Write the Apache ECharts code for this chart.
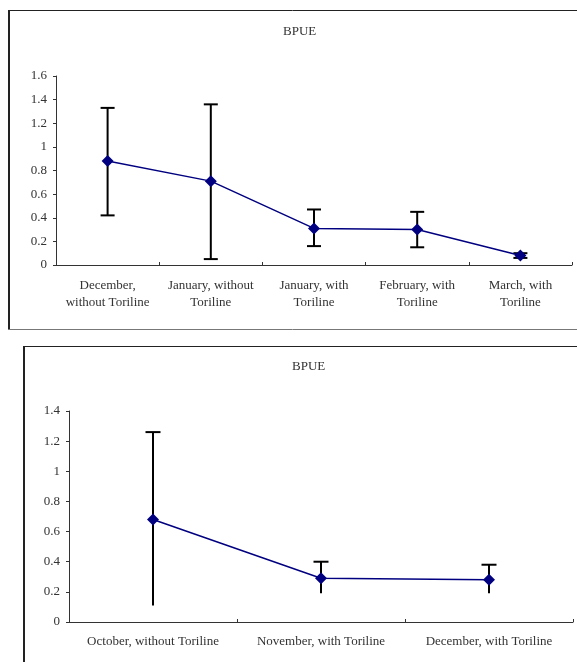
<!DOCTYPE html>
<html>
<head>
<meta charset="utf-8">
<script src="https://cdn.jsdelivr.net/npm/echarts@6/dist/echarts.min.js"></script>
<style>
  html, body { margin: 0; padding: 0; background: #fff; }
  #chart { width: 577px; height: 662px; }
</style>
</head>
<body>
<div id="chart"></div>
<script>
// BPUE by month, with and without Toriline (two panels)
const topCategories = ['December,\nwithout Toriline', 'January, without\nToriline', 'January, with\nToriline', 'February, with\nToriline', 'March, with\nToriline']
const topMean = [0.88, 0.71, 0.31, 0.30, 0.08]
const topLow = [0.42, 0.05, 0.16, 0.15, 0.06]
const topHigh = [1.33, 1.36, 0.47, 0.45, 0.10]
const topTicks = [0, 0.2, 0.4, 0.6, 0.8, 1, 1.2, 1.4, 1.6]

const bottomCategories = ['October, without Toriline', 'November, with Toriline', 'December, with Toriline']
const bottomMean = [0.68, 0.29, 0.28]
const bottomLow = [0.11, 0.19, 0.19]
const bottomHigh = [1.26, 0.40, 0.38]
const bottomTicks = [0, 0.2, 0.4, 0.6, 0.8, 1, 1.2, 1.4]

const font = '"Liberation Serif", "Times New Roman", serif'
const textColor = '#333'
const axisColor = '#333'
const lineColor = '#000080'

function yAxis(gridIndex, ticks) {
  return {
    type: 'value', gridIndex,
    min: ticks[0], max: ticks[ticks.length - 1], interval: ticks[1] - ticks[0],
    axisLine: { show: true, lineStyle: { color: axisColor, width: 1 } },
    axisTick: { show: true, length: 3, lineStyle: { color: axisColor } },
    axisLabel: { margin: 9, color: textColor, fontFamily: font, fontSize: 13 },
    splitLine: { show: false }
  }
}

function xAxis(gridIndex, data, margin, lineHeight) {
  return {
    type: 'category', gridIndex, data, boundaryGap: true,
    axisLine: { lineStyle: { color: axisColor, width: 1 } },
    axisTick: { show: true, inside: true, length: 3, lineStyle: { color: axisColor } },
    axisLabel: { margin, interval: 0, color: textColor, fontFamily: font, fontSize: 13, lineHeight }
  }
}

function errorBars(idx, low, high, capBottom, capHalf) {
  return {
    type: 'custom', xAxisIndex: idx, yAxisIndex: idx, z: 2,
    data: low.map((l, i) => [i, l, high[i]]),
    renderItem(params, api) {
      const i = api.value(0)
      const lo = api.coord([i, api.value(1)])
      const hi = api.coord([i, api.value(2)])
      const style = { stroke: '#000', lineWidth: 2 }
      const children = [
        { type: 'line', shape: { x1: lo[0], y1: lo[1], x2: hi[0], y2: hi[1] }, style },
        { type: 'line', shape: { x1: hi[0] - capHalf, y1: hi[1], x2: hi[0] + capHalf, y2: hi[1] }, style }
      ]
      if (capBottom) {
        children.push({ type: 'line', shape: { x1: lo[0] - capHalf, y1: lo[1], x2: lo[0] + capHalf, y2: lo[1] }, style })
      }
      return { type: 'group', children }
    }
  }
}

function meanLine(idx, data) {
  return {
    type: 'line', xAxisIndex: idx, yAxisIndex: idx, z: 3, data,
    symbol: 'diamond', symbolSize: 12,
    lineStyle: { color: lineColor, width: 1.5 },
    itemStyle: { color: lineColor },
    animation: false
  }
}

const chart = echarts.init(document.getElementById('chart'))
chart.setOption({
  animation: false,
  textStyle: { fontFamily: font },
  title: [
    { text: 'BPUE', left: 278, top: 20, textStyle: { fontFamily: font, fontSize: 13, fontWeight: 'normal', color: textColor } },
    { text: 'BPUE', left: 287, top: 355, textStyle: { fontFamily: font, fontSize: 13, fontWeight: 'normal', color: textColor } }
  ],
  graphic: [
    { type: 'line', shape: { x1: 8, y1: 10.5, x2: 577, y2: 10.5 }, style: { stroke: '#222', lineWidth: 1 } },
    { type: 'line', shape: { x1: 9, y1: 10, x2: 9, y2: 330 }, style: { stroke: '#222', lineWidth: 2 } },
    { type: 'line', shape: { x1: 8, y1: 329.5, x2: 577, y2: 329.5 }, style: { stroke: '#777', lineWidth: 1 } },
    { type: 'line', shape: { x1: 23, y1: 346.5, x2: 577, y2: 346.5 }, style: { stroke: '#222', lineWidth: 1 } },
    { type: 'line', shape: { x1: 24, y1: 346, x2: 24, y2: 662 }, style: { stroke: '#222', lineWidth: 2 } }
  ],
  grid: [
    { left: 56, top: 76, width: 516, height: 189 },
    { left: 69, top: 411, width: 504, height: 211 }
  ],
  xAxis: [
    xAxis(0, topCategories, 12, 17),
    xAxis(1, bottomCategories, 13, 14)
  ],
  yAxis: [
    yAxis(0, topTicks),
    yAxis(1, bottomTicks)
  ],
  series: [
    errorBars(0, topLow, topHigh, true, 7),
    meanLine(0, topMean),
    errorBars(1, bottomLow, bottomHigh, false, 7.5),
    meanLine(1, bottomMean)
  ]
})
</script>
</body>
</html>
